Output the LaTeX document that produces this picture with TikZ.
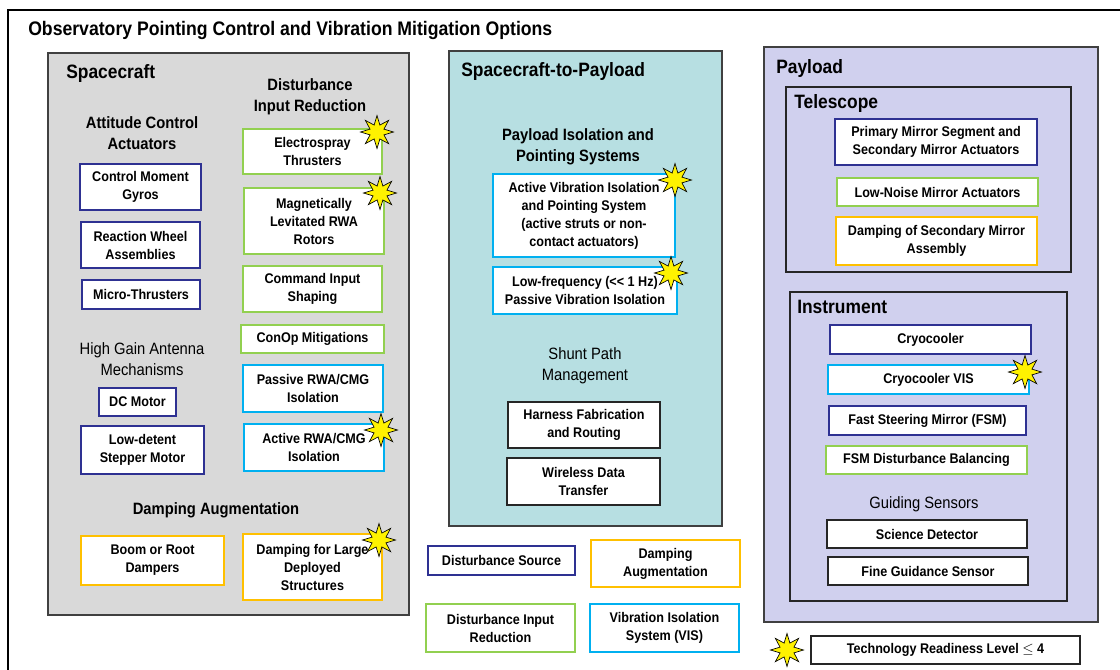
\documentclass[tikz,border=0pt]{standalone}
\usepackage{fontspec}
\setmainfont{Liberation Sans}[FakeStretch=0.9]
\usepackage{tikz}
\usetikzlibrary{shapes.geometric}

\definecolor{srcnavy}{RGB}{46,49,146}
\definecolor{dirgreen}{RGB}{146,208,80}
\definecolor{dmporange}{RGB}{255,192,0}
\definecolor{visblue}{RGB}{0,176,240}
\definecolor{scgray}{RGB}{217,217,217}
\definecolor{s2pteal}{RGB}{183,223,226}
\definecolor{pllav}{RGB}{208,208,238}
\definecolor{edgegray}{RGB}{64,64,64}

\newcommand{\px}{0.75pt}

\tikzset{
  span/.style n args={4}{at={({(#1+#3)/2},{(#2+#4)/2})},
    minimum width={(#3-#1)*\px}, minimum height={(#4-#2)*\px}},
  box/.style={draw, fill=white, inner sep=0pt, align=center,
    font=\fontsize{10.5}{13.5}\selectfont\bfseries},
  srcbox/.style={box, draw=srcnavy, line width=2.2pt},
  dirbox/.style={box, draw=dirgreen, line width=2.2pt},
  dmpbox/.style={box, draw=dmporange, line width=2.2pt},
  visbox/.style={box, draw=visblue, line width=2.2pt},
  plainbox/.style={box, draw=black!85, line width=1.2pt},
  panel/.style={draw=edgegray, line width=1.5pt},
  paneltitle/.style={anchor=west, inner sep=0pt, font=\fontsize{14.5}{17}\selectfont\bfseries},
  grouphead/.style={align=center, inner sep=0pt, font=\fontsize{12.3}{16}\selectfont\bfseries},
  grouplight/.style={align=center, inner sep=0pt, font=\fontsize{12.3}{16}\selectfont},
  trlstar/.style={star, star points=8, star point ratio=2.2, minimum size=33*\px,
    inner sep=0pt, fill=yellow, draw=black, line width=0.5pt}
}

\begin{document}
\begin{tikzpicture}[x=\px, y=-\px]
    \useasboundingbox (0,0) rectangle (1120,669);
    \clip (0,0) rectangle (1120,669);
    % outer frame (runs off the page on the right and bottom)
    \draw[line width=2pt] (8,10) rectangle (1140,690);
    \node[paneltitle, font=\fontsize{14.7}{17}\selectfont\bfseries] (title) at (28,30) {Observatory Pointing Control and Vibration Mitigation Options};

    % panels
    \draw[panel, fill=scgray] (48,53) rectangle (409,615);
    \draw[panel, fill=s2pteal] (449,51) rectangle (722,526);
    \draw[panel, fill=pllav] (764,47) rectangle (1098,622);
    \draw[draw=black!85, line width=1.2pt] (786,87) rectangle (1071,272);
    \draw[draw=black!85, line width=1.2pt] (790,292) rectangle (1067,601);

    \node[paneltitle] (sctitle) at (66,73) {Spacecraft};
    \node[paneltitle] (s2ptitle) at (461,71) {Spacecraft-to-Payload};
    \node[paneltitle] (pltitle) at (776,68) {Payload};
    \node[paneltitle] (teltitle) at (794,103) {Telescope};
    \node[paneltitle] (insttitle) at (797,307) {Instrument};

    % spacecraft
    \node[grouphead] (acahead) at (142,133) {Attitude Control\\Actuators};
    \node[grouphead] (dirhead) at (310,97) {Disturbance\\Input Reduction};
    \node[grouplight] (hgahead) at (142,359) {High Gain Antenna\\Mechanisms};
    \node[grouphead] (dmphead) at (216,510) {Damping Augmentation};

    \node[srcbox, span={80}{164}{201}{210}] (cmg) {Control Moment\\Gyros};
    \node[srcbox, span={81}{222}{200}{268}] (rwa) {Reaction Wheel\\Assemblies};
    \node[srcbox, span={82}{280}{200}{309}] (mthr) {Micro-Thrusters};
    \node[srcbox, span={99}{388}{176}{416}] (dcm) {DC Motor};
    \node[srcbox, span={81}{426}{204}{474}] (stpm) {Low-detent\\Stepper Motor};

    \node[dirbox, span={243}{129}{382}{174}] (espr) {Electrospray\\Thrusters};
    \node[dirbox, span={244}{188}{384}{254}] (mlev) {Magnetically\\Levitated RWA\\Rotors};
    \node[dirbox, span={243}{266}{382}{312}] (cmds) {Command Input\\Shaping};
    \node[dirbox, span={241}{325}{384}{353}] (conop) {ConOp Mitigations};
    \node[visbox, span={243}{365}{383}{412}] (prwa) {Passive RWA/CMG\\Isolation};
    \node[visbox, span={244}{424}{384}{471}] (arwa) {Active RWA/CMG\\Isolation};

    \node[dmpbox, span={81}{536}{224}{585}] (boom) {Boom or Root\\Dampers};
    \node[dmpbox, span={243}{534}{382}{600}] (dlds) {Damping for Large\\Deployed\\Structures};

    % spacecraft-to-payload
    \node[grouphead] (pipshead) at (578,147) {Payload Isolation and\\Pointing Systems};
    \node[visbox, span={493}{174}{675}{257}] (avis) {Active Vibration Isolation\\and Pointing System\\(active struts or non-\\contact actuators)};
    \node[visbox, span={493}{267}{677}{314}] (lfpi) {Low-frequency (<{}< 1 Hz)\\Passive Vibration Isolation};
    \node[grouplight] (shunthead) at (585,366) {Shunt Path\\Management};
    \node[plainbox, span={508}{402}{660}{448}] (harn) {Harness Fabrication\\and Routing};
    \node[plainbox, span={507}{458}{660}{505}] (wdt) {Wireless Data\\Transfer};

    % payload
    \node[srcbox, span={835}{119}{1037}{165}] (pmsa) {Primary Mirror Segment and\\Secondary Mirror Actuators};
    \node[dirbox, span={837}{178}{1038}{206}] (lnma) {Low-Noise Mirror Actuators};
    \node[dmpbox, span={836}{217}{1037}{265}] (dsma) {Damping of Secondary Mirror\\Assembly};
    \node[srcbox, span={830}{325}{1031}{354}] (cryo) {Cryocooler};
    \node[visbox, span={828}{365}{1029}{394}] (cvis) {Cryocooler VIS};
    \node[srcbox, span={829}{406}{1026}{435}] (fsm) {Fast Steering Mirror (FSM)};
    \node[dirbox, span={826}{446}{1027}{474}] (fsmb) {FSM Disturbance Balancing};
    \node[grouplight] (guidhead) at (924,504) {Guiding Sensors};
    \node[plainbox, span={827}{520}{1027}{548}] (sdet) {Science Detector};
    \node[plainbox, span={828}{557}{1028}{585}] (fgs) {Fine Guidance Sensor};

    % legend
    \node[srcbox, span={428}{546}{575}{575}] (lgsrc) {Disturbance Source};
    \node[dmpbox, span={591}{540}{740}{587}] (lgdmp) {Damping\\Augmentation};
    \node[dirbox, span={426}{604}{575}{652}] (lgdir) {Disturbance Input\\Reduction};
    \node[visbox, span={590}{604}{739}{652}] (lgvis) {Vibration Isolation\\System (VIS)};
    \node[plainbox, span={811}{636}{1080}{664}] (trl) {Technology Readiness Level \ensuremath{\leq} 4};

    % TRL <= 4 markers
    \node[trlstar] (st1) at (377,132) {};
    \node[trlstar] (st2) at (380,193) {};
    \node[trlstar] (st3) at (381,430) {};
    \node[trlstar] (st4) at (379,540) {};
    \node[trlstar] (st5) at (675,180) {};
    \node[trlstar] (st6) at (671,273) {};
    \node[trlstar] (st7) at (1025,372) {};
    \node[trlstar] (st8) at (787,650) {};
\end{tikzpicture}
\end{document}
